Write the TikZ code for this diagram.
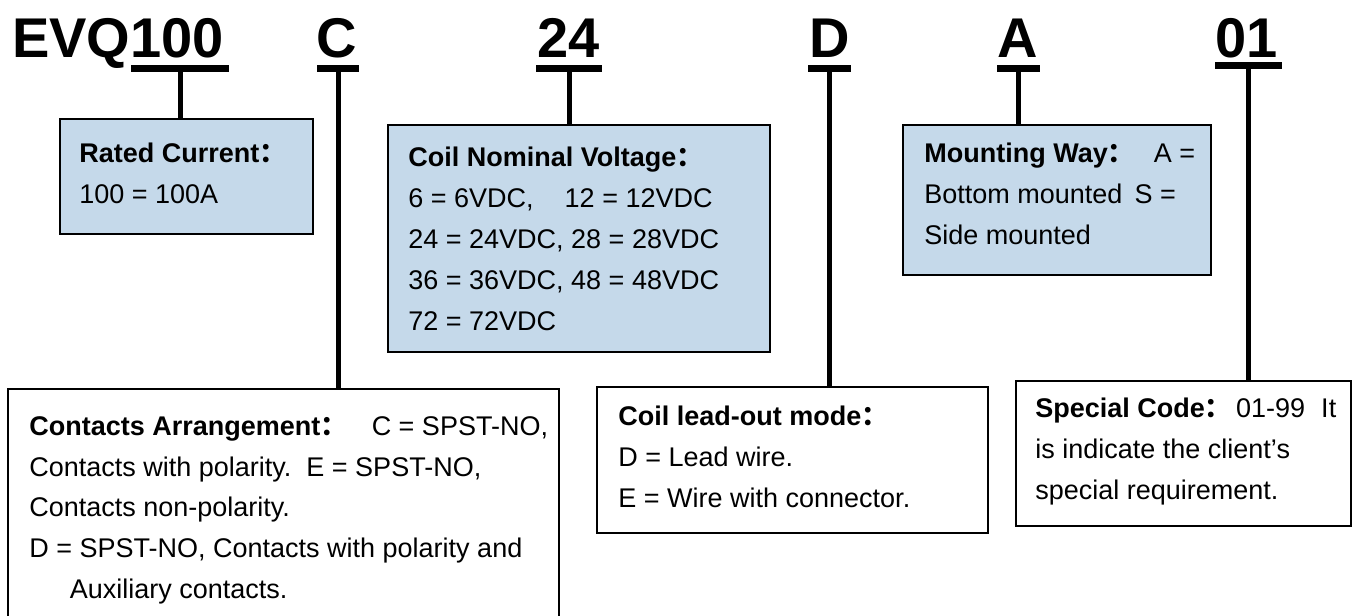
\documentclass[tikz,border=0pt]{standalone}
\usepackage{fontspec}
\setmainfont{Liberation Sans}
\newfontfamily\cjk{Noto Sans CJK SC}
\usetikzlibrary{positioning}
\definecolor{boxblue}{RGB}{197,217,234}
\newcommand{\fcolon}{{\cjk ：}}

\begin{document}
\begin{tikzpicture}[
  x=1pt, y=-1pt,
  code/.style={font=\bfseries\fontsize{28}{30}\selectfont, inner sep=0pt, anchor=base},
  bar/.style={fill=black, inner sep=0pt, minimum height=3.5pt},
  stem/.style={line width=2.5pt},
  box/.style={draw, line width=1.1pt, inner sep=0pt, anchor=north west},
  bluebox/.style={box, fill=boxblue},
  desc/.style={font=\fontsize{13.5}{20.4}\selectfont, align=left, inner sep=0pt,
    execute at begin node=\rule{0pt}{14pt}},
]
\useasboundingbox (0,0) rectangle (678.5,308);

% --- part number, one node per code field ---
\node[code] (tEVQ) at (59,28.5)    {EVQ100};
\node[code] (tC)   at (168.5,28.5) {C};
\node[code] (t24)  at (284.5,28.5) {24};
\node[code] (tD)   at (415,28.5)   {D};
\node[code] (tA)   at (509,28.5)   {A};
\node[code] (t01)  at (623.5,28.5) {01};

% underline bars
\node[bar, minimum width=49pt]   (b100) at (90,34)      {};
\node[bar, minimum width=21pt]   (bC)   at (169,34)     {};
\node[bar, minimum width=33pt]   (b24)  at (284.5,34)   {};
\node[bar, minimum width=21.5pt] (bD)   at (414.75,34)  {};
\node[bar, minimum width=21.5pt] (bA)   at (509.25,34)  {};
\node[bar, minimum width=33.5pt] (b01)  at (624.25,32.75) {};

% --- upper row: blue boxes ---
\node[bluebox, minimum width=126.5pt, minimum height=57.5pt] (rated) at (29.5,59) {};
\node[desc, below right=12.5pt and 10pt of rated.north west] (ratedtxt)
  {\textbf{Rated Current\fcolon}\\100 = 100A};

\node[bluebox, minimum width=191pt, minimum height=113.5pt] (volt) at (193.5,62) {};
\node[desc, below right=11.5pt and 10.5pt of volt.north west] (volttxt)
  {\textbf{Coil Nominal Voltage\fcolon}\\
   6 = 6VDC,\hspace{1.15em}12 = 12VDC\\
   24 = 24VDC, 28 = 28VDC\\
   36 = 36VDC, 48 = 48VDC\\
   72 = 72VDC};

\node[bluebox, minimum width=154pt, minimum height=75pt] (mount) at (451,62) {};
\node[desc, below right=9.5pt and 11pt of mount.north west] (mounttxt)
  {\textbf{Mounting Way\fcolon}\hspace{0.7em}A =\\
   Bottom mounted\hspace{0.45em}S =\\
   Side mounted};

% --- lower row: white boxes ---
\node[box, minimum width=275.5pt, minimum height=125pt] (contacts) at (3.5,194) {};
\node[desc, below right=14pt and 11pt of contacts.north west] (contactstxt)
  {\textbf{Contacts Arrangement\fcolon}\hspace{0.9em}C = SPST-NO,\\
   Contacts with polarity.\ \ E = SPST-NO,\\
   Contacts non-polarity.\\
   D = SPST-NO, Contacts with polarity and\\
   \hspace*{1.5em}Auxiliary contacts.};

\node[box, minimum width=195.5pt, minimum height=73pt] (coil) at (298,193) {};
\node[desc, below right=10pt and 11pt of coil.north west] (coiltxt)
  {\textbf{Coil lead-out mode\fcolon}\\
   D = Lead wire.\\
   E = Wire with connector.};

\node[box, minimum width=167.5pt, minimum height=72.5pt] (special) at (507.5,190) {};
\node[desc, below right=9pt and 10pt of special.north west] (specialtxt)
  {\textbf{Special Code\fcolon}\hspace{0.15em}01-99\hspace{0.6em}It\\
   is indicate the client’s\\
   special requirement.};

% --- stems from bars down to boxes ---
\draw[stem] (b100.south) -- (b100.south |- rated.north);
\draw[stem] (bC.south)   -- (bC.south |- contacts.north);
\draw[stem] (b24.south)  -- (b24.south |- volt.north);
\draw[stem] (bD.south)   -- (bD.south |- coil.north);
\draw[stem] (bA.south)   -- (bA.south |- mount.north);
\draw[stem] (b01.south)  -- (b01.south |- special.north);

\end{tikzpicture}
\end{document}
